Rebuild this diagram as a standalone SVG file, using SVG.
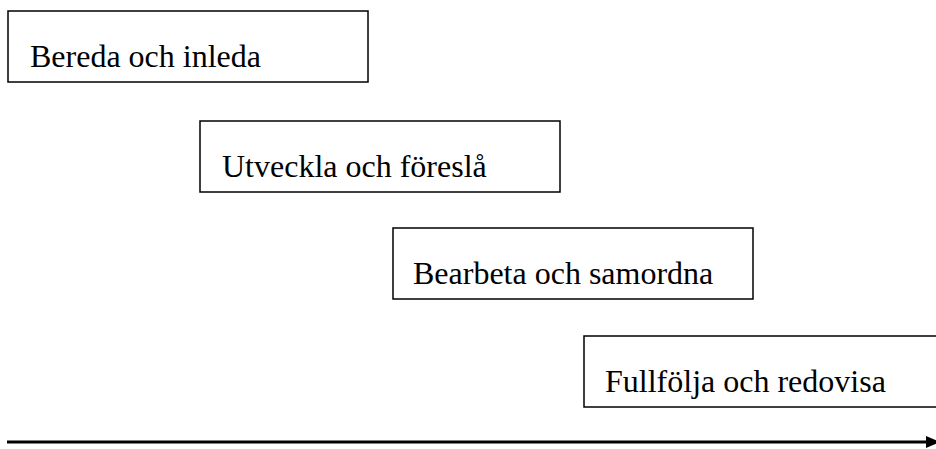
<svg xmlns="http://www.w3.org/2000/svg" width="936" height="449" viewBox="0 0 936 449">
<defs>
<style>
.box{fill:#fff;stroke:#000;stroke-width:1.5}
.lbl{font-family:"Liberation Serif","Times New Roman",serif;font-size:32px;fill:#000}
.conn{stroke:#000;stroke-width:3;fill:none}
</style>
<marker id="ah" markerUnits="userSpaceOnUse" markerWidth="14" markerHeight="14" viewBox="0 0 14 14" refX="2" refY="7" orient="auto">
<path d="M0,1 L14,7 L0,13 Z" fill="#000"/>
</marker>
</defs>
<rect width="936" height="449" fill="#fff"/>
<g id="n1"><rect class="box" x="8" y="11" width="360" height="71"/><text class="lbl" x="30" y="67">Bereda och inleda</text></g>
<g id="n2"><rect class="box" x="200" y="121" width="360" height="71"/><text class="lbl" x="222" y="177">Utveckla och föreslå</text></g>
<g id="n3"><rect class="box" x="393" y="228" width="360" height="71"/><text class="lbl" x="413" y="284">Bearbeta och samordna</text></g>
<g id="n4"><rect class="box" x="584" y="336" width="370" height="71"/><text class="lbl" x="605" y="392">Fullfölja och redovisa</text></g>
<g id="connectors"><line class="conn" x1="7" y1="442" x2="928" y2="442" marker-end="url(#ah)"/></g>
</svg>
